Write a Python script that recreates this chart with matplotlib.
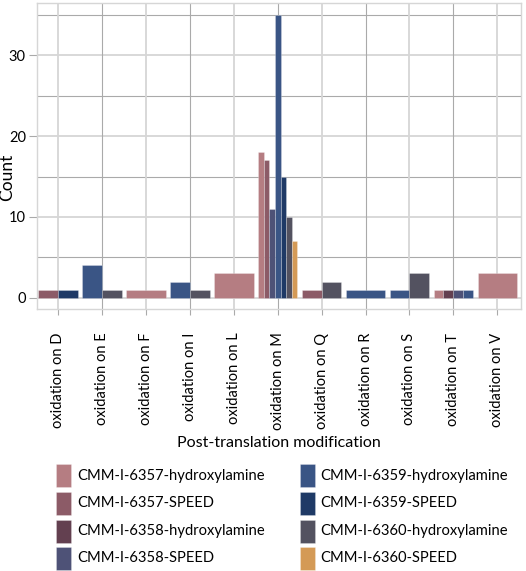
import numpy as np
import matplotlib
matplotlib.use("Agg")
import matplotlib.pyplot as plt
from matplotlib.patches import Rectangle

plt.rcParams['font.family'] = ['Lato', 'DejaVu Sans']

categories = ["oxidation on D", "oxidation on E", "oxidation on F", "oxidation on I",
              "oxidation on L", "oxidation on M", "oxidation on Q", "oxidation on R",
              "oxidation on S", "oxidation on T", "oxidation on V"]

series_names = ["CMM-I-6357-hydroxylamine", "CMM-I-6357-SPEED",
                "CMM-I-6358-hydroxylamine", "CMM-I-6358-SPEED",
                "CMM-I-6359-hydroxylamine", "CMM-I-6359-SPEED",
                "CMM-I-6360-hydroxylamine", "CMM-I-6360-SPEED"]

colors = ["#B57D82", "#8C5B67", "#634050", "#4E5277",
          "#3A5585", "#1F3A66", "#535260", "#D49A56"]

# values per series across categories (0 = absent)
s6357_hydroxylamine = [0, 0, 1, 0, 3, 18, 0, 0, 0, 1, 3]
s6357_speed         = [1, 0, 0, 0, 0, 17, 1, 0, 0, 0, 0]
s6358_hydroxylamine = [0, 0, 0, 0, 0, 0, 0, 0, 0, 1, 0]
s6358_speed         = [0, 0, 0, 0, 0, 11, 0, 0, 0, 1, 0]
s6359_hydroxylamine = [0, 4, 0, 2, 0, 35, 0, 1, 1, 1, 0]
s6359_speed         = [1, 0, 0, 0, 0, 15, 0, 0, 0, 0, 0]
s6360_hydroxylamine = [0, 1, 0, 1, 0, 10, 2, 0, 3, 0, 0]
s6360_speed         = [0, 0, 0, 0, 0, 7, 0, 0, 0, 0, 0]

values = [s6357_hydroxylamine, s6357_speed, s6358_hydroxylamine, s6358_speed,
          s6359_hydroxylamine, s6359_speed, s6360_hydroxylamine, s6360_speed]

W, H = 526, 571
fig = plt.figure(figsize=(W / 100, H / 100), dpi=100)
ax = fig.add_axes([37 / W, 1 - 309 / H, (521 - 37) / W, (309 - 3) / H])

major_c = "#D6D6D6"
minor_c = "#AAAAAA"

# gridlines
for yv in [0, 10, 20, 30]:
    ax.axhline(yv, color=major_c, lw=1.3, zorder=0)
for yv in [5, 15, 25, 35]:
    ax.axhline(yv, color=minor_c, lw=0.8, zorder=0)
xpos = np.arange(1, len(categories) + 1)
for i, xv in enumerate(xpos):
    if i % 2 == 0:
        ax.axvline(xv, color=major_c, lw=1.3, zorder=0)
    else:
        ax.axvline(xv, color=minor_c, lw=0.8, zorder=0)

# dodged bars (ggplot-style: width split among present series)
total_w = 0.9
for ci, xc in enumerate(xpos):
    present = [si for si in range(len(values)) if values[si][ci] > 0]
    n = len(present)
    if n == 0:
        continue
    w = total_w / n
    for k, si in enumerate(present):
        left = xc - total_w / 2 + k * w
        ax.bar(left, values[si][ci], width=w, align='edge', color=colors[si],
               edgecolor=(1, 1, 1, 0.35), linewidth=0.5, zorder=2)

ax.set_xlim(0.52, 11.54)
ax.set_ylim(-1.4, 36.5)

ax.set_xticks(xpos)
ax.set_xticklabels(categories, rotation=90, fontsize=10.5, va='top')
ax.set_yticks([0, 10, 20, 30])
ax.set_yticklabels(["0", "10", "20", "30"], fontsize=10.5)
ax.tick_params(axis='y', length=6, color=minor_c, width=0.8, pad=2)
ax.tick_params(axis='x', length=4, color=minor_c, width=0.8, pad=13)

for sp in ax.spines.values():
    sp.set_color(major_c)
    sp.set_linewidth(1.0)

ax.set_xlabel("Post-translation modification", fontsize=11.5, labelpad=4)
fig.text(7 / W, 1 - 177.5 / H, "Count", rotation=90, ha='center', va='center', fontsize=12.5)

# legend (two columns, tall swatches)
col_patch_x = [56, 300]
col_text_x = [77, 320.7]
row_y = [475.7, 503.4, 531.0, 558.4]
sw_w, sw_h = 14.7, 23
for i, (name, c) in enumerate(zip(series_names, colors)):
    col, row = divmod(i, 4)
    px, py = col_patch_x[col], row_y[row]
    fig.add_artist(Rectangle((px / W, 1 - (py + sw_h / 2) / H), sw_w / W, sw_h / H,
                             transform=fig.transFigure, facecolor=c,
                             edgecolor=(1, 1, 1, 0.35), linewidth=0.5))
    fig.text(col_text_x[col] / W, 1 - py / H, name, ha='left', va='center', fontsize=10.6)

fig.savefig("out.png", dpi=100)
